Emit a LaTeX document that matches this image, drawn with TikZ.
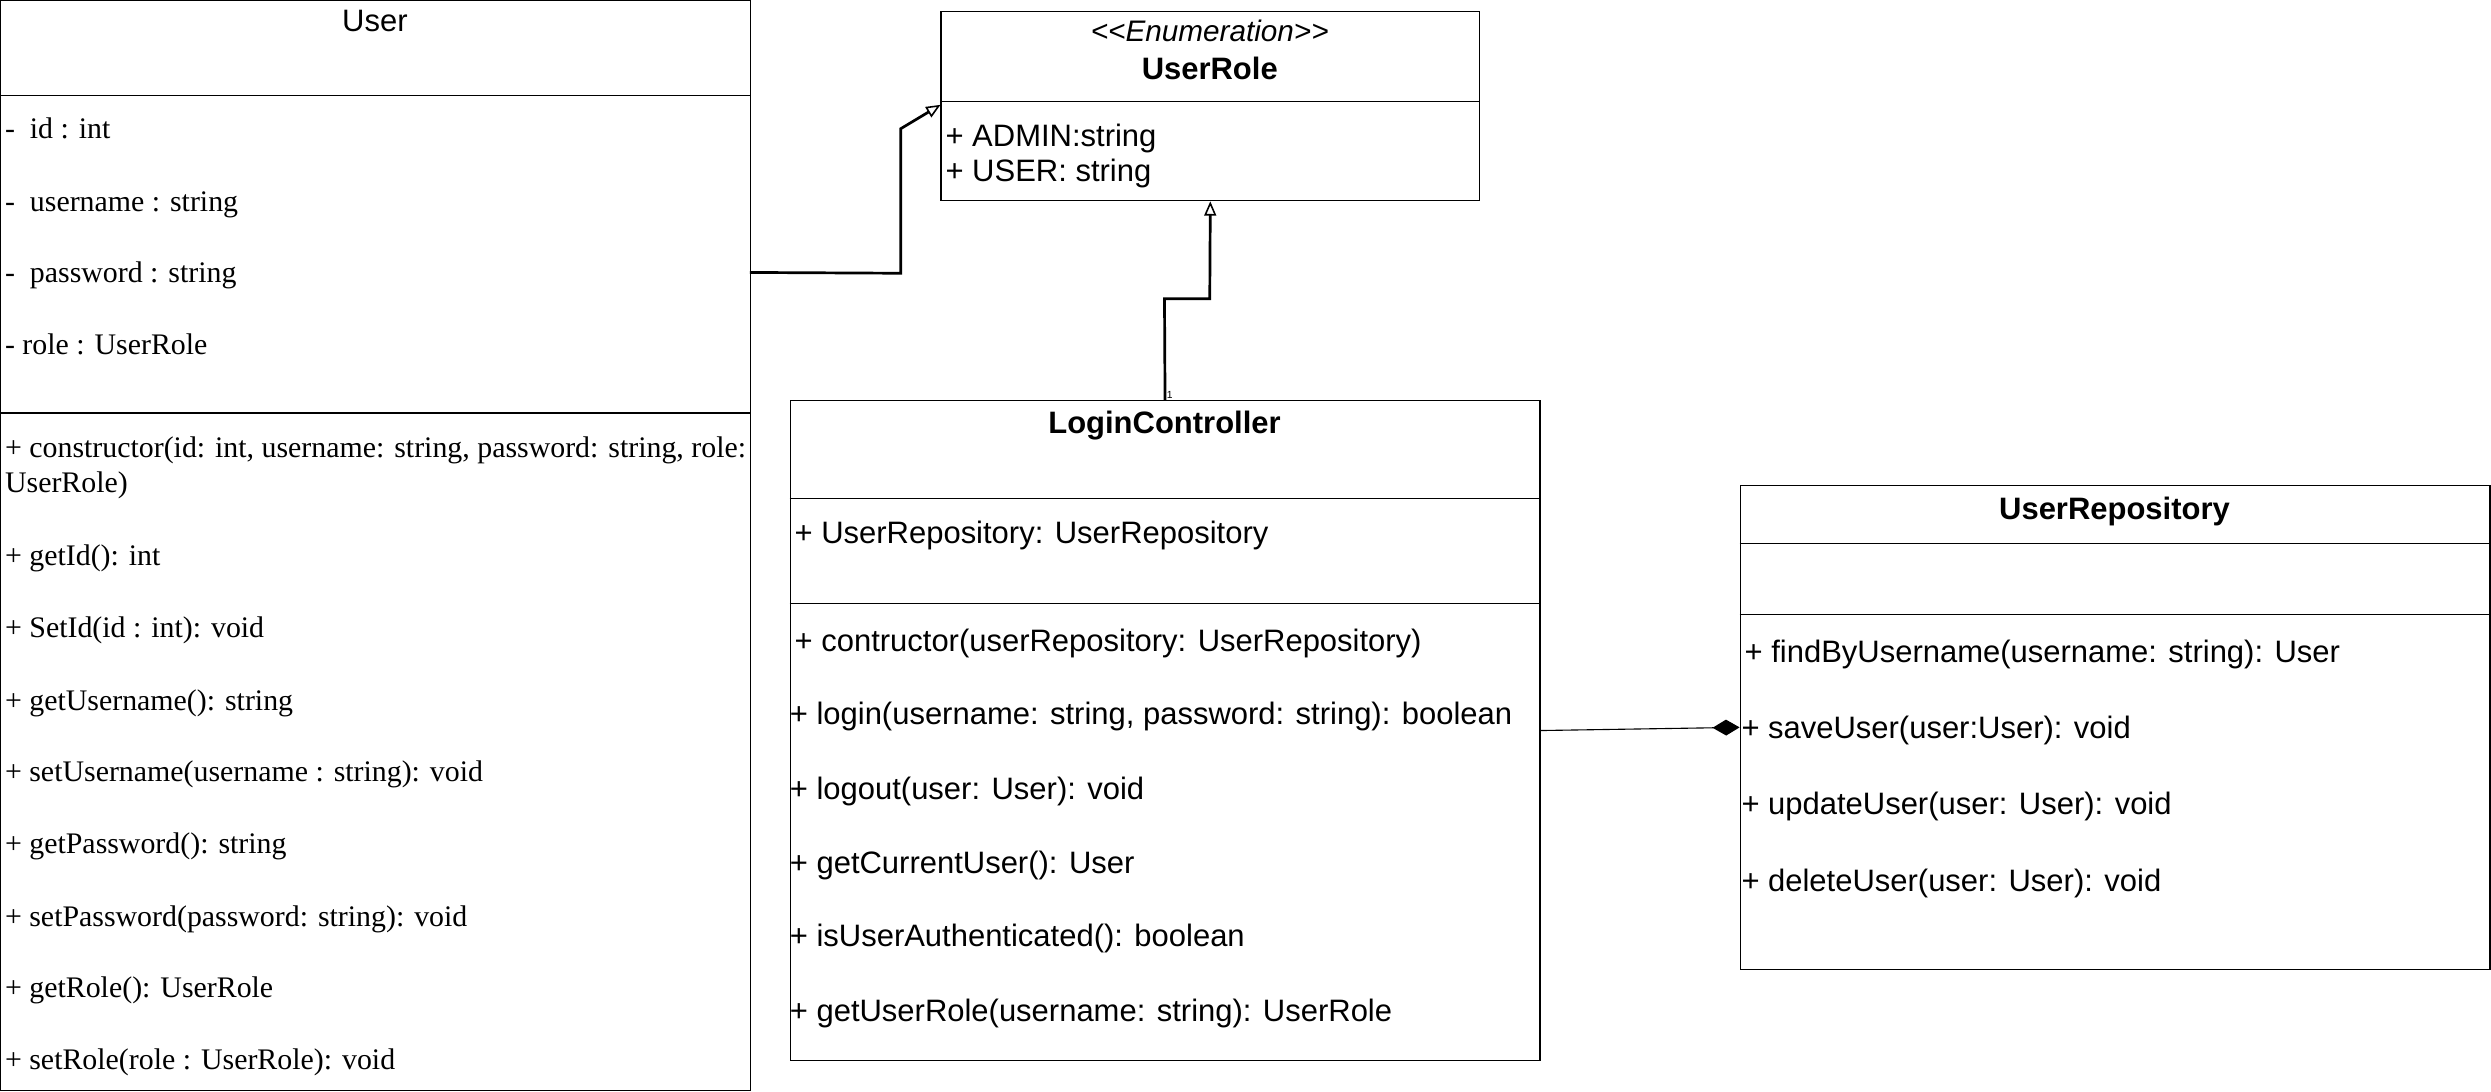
\documentclass[tikz,border=0pt]{standalone}
\usepackage{fontspec}
\setmainfont{Liberation Sans}
\newfontfamily\timesfont{Liberation Serif}
\usetikzlibrary{arrows.meta}

\begin{document}
\begin{tikzpicture}[x=1pt, y=-1pt,
  classbox/.style={draw, rectangle, line width=0.7pt, anchor=north west, inner sep=0pt},
  divider/.style={line width=0.7pt},
  ctitle/.style={anchor=base, inner sep=0pt, font=\bfseries\fontsize{19.5}{23}\selectfont},
  member/.style={anchor=base west, inner sep=0pt, font=\fontsize{19.5}{23}\selectfont},
  tmember/.style={anchor=base west, inner sep=0pt, font=\timesfont\fontsize{18.8}{22}\selectfont},
  inherit/.style={-{Triangle[open, length=9pt, width=7.5pt, line width=1pt]}, line width=1.7pt},
  compose/.style={-{Diamond[length=17pt, width=10pt]}, line width=0.7pt}]
\useasboundingbox (0,0) rectangle (1568,687);

% User
\node[classbox, minimum width=472pt, minimum height=686pt] (user) at (0,0) {};
\draw[divider] (0,60) -- (472,60);
\draw[divider] (0,260) -- (472,260);
\node[ctitle, font=\fontsize{19.5}{23}\selectfont] (usertitle) at (236,20) {User};
\node[tmember] (uid) at (3,87) {-\ \ id : int};
\node[tmember] (uname) at (3,133) {-\ \ username : string};
\node[tmember] (upass) at (3,178) {-\ \ password : string};
\node[tmember] (urole) at (3,223) {- role : UserRole};
\node[tmember] (um1) at (3,288) {+ constructor(id: int, username: string, password: string, role:};
\node[tmember] (um1b) at (3,310) {UserRole)};
\node[tmember] (um2) at (3,356) {+ getId(): int};
\node[tmember] (um3) at (3,401) {+ SetId(id : int): void};
\node[tmember] (um4) at (3,447) {+ getUsername(): string};
\node[tmember] (um5) at (3,492) {+ setUsername(username : string): void};
\node[tmember] (um6) at (3,537) {+ getPassword(): string};
\node[tmember] (um7) at (3,583) {+ setPassword(password: string): void};
\node[tmember] (um8) at (3,628) {+ getRole(): UserRole};
\node[tmember] (um9) at (3,673) {+ setRole(role : UserRole): void};

% UserRole
\node[classbox, minimum width=339pt, minimum height=119pt] (role) at (592,7) {};
\draw[divider] (592,64) -- (931,64);
\node[anchor=base, inner sep=0pt, font=\itshape\fontsize{18.7}{22}\selectfont] (rolestereo) at (761.5,26) {\textless\kern0pt\textless Enumeration\textgreater\kern0pt\textgreater};
\node[ctitle] (roletitle) at (761.5,50) {UserRole};
\node[member] (radmin) at (595,92) {+ ADMIN:string};
\node[member] (ruser) at (595,114) {+ USER: string};

% LoginController
\node[classbox, minimum width=472pt, minimum height=415pt] (login) at (497,252) {};
\draw[divider] (497,314) -- (969,314);
\draw[divider] (497,380) -- (969,380);
\node[ctitle] (logintitle) at (733,273) {LoginController};
\node[member] (lattr) at (500,342) {+ UserRepository: UserRepository};
\node[member] (lm1) at (500,410) {+ contructor(userRepository: UserRepository)};
\node[member] (lm2) at (497,456) {+ login(username: string, password: string): boolean};
\node[member] (lm3) at (497,503) {+ logout(user: User): void};
\node[member] (lm4) at (497,550) {+ getCurrentUser(): User};
\node[member] (lm5) at (497,596) {+ isUserAuthenticated(): boolean};
\node[member] (lm6) at (497,643) {+ getUserRole(username: string): UserRole};

% UserRepository
\node[classbox, minimum width=472pt, minimum height=305pt] (repo) at (1095,305) {};
\draw[divider] (1095,342) -- (1567,342);
\draw[divider] (1095,387) -- (1567,387);
\node[ctitle] (repotitle) at (1331,327) {UserRepository};
\node[member] (rm1) at (1098,417) {+ findByUsername(username: string): User};
\node[member] (rm2) at (1096,465) {+ saveUser(user:User): void};
\node[member] (rm3) at (1096,513) {+ updateUser(user: User): void};
\node[member] (rm4) at (1096,561) {+ deleteUser(user: User): void};

% connectors
\coordinate (userout) at (472,171.5);
\coordinate (rolein) at (592,66);
\draw[inherit] (userout) -- (567,172) -- (567,81) -- (rolein);
\draw[inherit] (login.north) -- (733,188) -- (761.5,188) -- (role.south);
\node[anchor=south west, inner sep=1pt, font=\fontsize{6.5}{7}\selectfont] (mult) at (login.north) {1};
\draw[compose] (login.east) -- (repo.west);
\end{tikzpicture}
\end{document}
